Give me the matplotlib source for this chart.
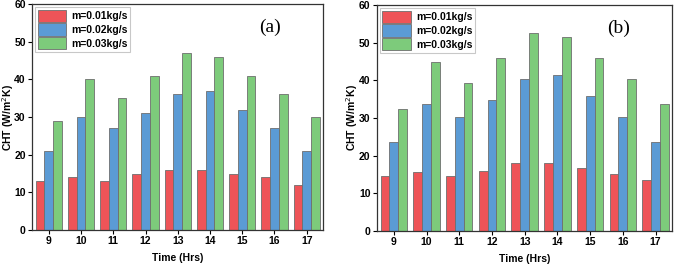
import matplotlib
matplotlib.use("Agg")
import matplotlib.pyplot as plt
import numpy as np

hours = [9, 10, 11, 12, 13, 14, 15, 16, 17]
series_labels = ["m=0.01kg/s", "m=0.02kg/s", "m=0.03kg/s"]

a_001 = [13, 14, 13, 15, 16, 16, 15, 14, 12]
a_002 = [21, 30, 27, 31, 36, 37, 32, 27, 21]
a_003 = [29, 40, 35, 41, 47, 46, 41, 36, 30]

b_001 = [14.6, 15.7, 14.6, 16.0, 18.0, 18.0, 16.8, 15.0, 13.5]
b_002 = [23.5, 33.6, 30.2, 34.7, 40.3, 41.4, 35.8, 30.2, 23.5]
b_003 = [32.4, 44.8, 39.2, 45.9, 52.6, 51.5, 45.9, 40.3, 33.6]

colors = ["#EE5458", "#5B9BD5", "#7DCB7B"]
plt.rcParams['font.family'] = ['Liberation Sans', 'DejaVu Sans']

fig = plt.figure(figsize=(6.74, 2.66), dpi=100)
ax1 = fig.add_axes([0.0475, 0.135, 0.4315, 0.85])
ax2 = fig.add_axes([0.559, 0.132, 0.438, 0.849])

def draw(ax, data, tag):
    x = np.array(hours, dtype=float)
    w = 0.27
    for i, (vals, c, lab) in enumerate(zip(data, colors, series_labels)):
        ax.bar(x + (i - 1) * w, vals, width=w, color=c, edgecolor="#6e6e6e",
               linewidth=0.6, label=lab)
    ax.set_xlim(8.48, 17.5)
    ax.set_ylim(0, 60)
    ax.set_xticks(hours)
    ax.set_xticklabels([str(h) for h in hours])
    ax.set_yticks([0, 10, 20, 30, 40, 50, 60])
    ax.tick_params(direction='out', length=3, width=0.8, labelsize=7.5, pad=1.5)
    for lbl in ax.get_xticklabels() + ax.get_yticklabels():
        lbl.set_fontweight('bold')
    for s in ax.spines.values():
        s.set_linewidth(0.9)
        s.set_color("#333333")
    ax.set_xlabel("Time (Hrs)", fontsize=7.5, fontweight='bold', labelpad=5)
    ax.set_ylabel("CHT (W/m$^2$K)", fontsize=7.5, fontweight='bold',
                  va='center')
    ax.yaxis.set_label_coords(-0.083, 0.5)
    leg = ax.legend(loc='upper left', prop={'weight': 'bold', 'size': 7.5},
                    handlelength=2.7, handleheight=1.45, handletextpad=0.5,
                    labelspacing=0.12, borderpad=0.25, borderaxespad=0.3,
                    frameon=True, fancybox=False)
    leg.get_frame().set_edgecolor("#bbbbbb")
    leg.get_frame().set_linewidth(0.8)
    ax.text(0.82, 0.895, tag, transform=ax.transAxes, fontsize=14,
            family='Liberation Serif', ha='center', va='center')

draw(ax1, [a_001, a_002, a_003], "(a)")
draw(ax2, [b_001, b_002, b_003], "(b)")

fig.savefig("out.png", dpi=100)
